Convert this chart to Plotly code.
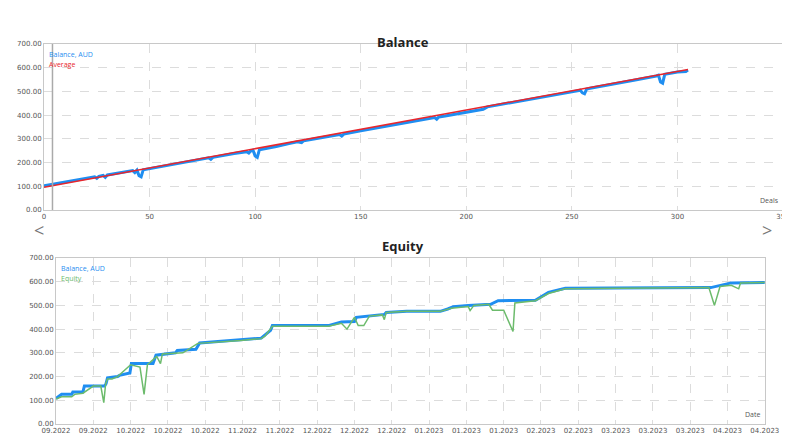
import plotly.graph_objects as go

# Balance chart (by deal)
deals = [0, 10, 20, 24, 25, 26, 28, 29, 30, 40, 42, 43, 44, 45, 46, 47, 50, 60, 70, 78, 79, 80, 90,
         96, 97, 98, 99, 100, 101, 102, 110, 115, 116, 120, 122, 123, 130, 140, 141, 142, 150,
         160, 170, 180, 185, 186, 187, 190, 200, 208, 210, 220, 230, 240, 250, 254, 255, 256,
         257, 258, 260, 270, 280, 290, 291, 292, 293, 294, 300, 304, 305]
balance = [102, 118, 134, 140, 134, 142, 146, 138, 148, 163, 166, 158, 168, 145, 140, 170, 175, 192,
           208, 220, 214, 222, 238, 246, 240, 250, 252, 228, 222, 254, 268, 276, 280, 288, 284, 292,
           302, 318, 312, 320, 334, 350, 366, 382, 390, 383, 392, 396, 412, 425, 435, 450, 466,
           480, 498, 505, 494, 490, 510, 512, 515, 530, 548, 565, 568, 540, 535, 572, 582, 584, 590]
avg_deals = [0, 305]
avg_values = [96, 592]

# Equity chart (by date, x in tick positions)
date_labels = ["09.2022", "09.2022", "10.2022", "10.2022", "10.2022", "11.2022", "11.2022",
               "12.2022", "12.2022", "12.2022", "01.2023", "01.2023", "01.2023", "02.2023",
               "02.2023", "03.2023", "03.2023", "03.2023", "04.2023", "04.2023"]
bal_t = [0.0, 0.15, 0.42, 0.45, 0.72, 0.76, 1.3, 1.34, 1.38, 1.65, 1.7, 1.98, 2.02, 2.6, 2.68, 3.0,
         3.2, 3.25, 3.75, 3.85, 4.4, 4.95, 5.5, 5.75, 5.8, 7.3, 7.65, 8.0, 8.05, 8.8, 8.85, 9.4,
         10.3, 10.5, 10.65, 11.05, 11.65, 11.85, 12.85, 13.2, 13.65, 17.5, 17.55, 18.1, 19.0]
bal_v = [108, 125, 125, 135, 135, 160, 160, 170, 195, 200, 205, 215, 255, 255, 290, 295,
         300, 310, 315, 342, 348, 355, 362, 395, 415, 415, 430, 432, 450, 462, 470, 475,
         475, 485, 495, 500, 505, 520, 522, 555, 572, 575, 575, 595, 597]
eq_t = [0.0, 0.15, 0.42, 0.5, 0.72, 1.0, 1.2, 1.28, 1.33, 1.38, 1.5, 1.65, 2.0, 2.25, 2.36, 2.45,
        2.7, 2.8, 2.85, 3.3, 3.4, 3.8, 4.4, 4.95, 5.5, 5.6, 5.8, 7.3, 7.65, 7.8, 7.9, 8.0, 8.1,
        8.25, 8.4, 8.75, 8.8, 8.85, 9.4, 10.3, 10.6, 11.05, 11.1, 11.2, 11.6, 11.7, 12.0, 12.25,
        12.3, 12.85, 13.2, 13.65, 17.5, 17.65, 17.8, 18.1, 18.3, 18.35, 19.0]
eq_v = [105, 115, 115, 125, 130, 160, 160, 90, 170, 190, 190, 200, 250, 240, 125, 250,
        285, 255, 295, 300, 300, 340, 345, 352, 360, 370, 412, 412, 425, 400, 425, 450, 415,
        415, 455, 460, 440, 470, 475, 475, 488, 495, 478, 500, 505, 480, 480, 390, 510,
        520, 550, 570, 575, 500, 580, 585, 570, 595, 597]

grid = dict(showgrid=True, gridcolor="#dcdcdc", griddash="dash", gridwidth=1,
            showline=True, linecolor="#c8c8c8", mirror=True, zeroline=False, automargin=False,
            tickfont=dict(size=7, color="#555", family="DejaVu Sans"), ticks="")

fig = go.Figure()
fig.add_trace(go.Scatter(x=deals, y=balance, mode="lines", line=dict(color="#1f8ef1", width=3),
                         xaxis="x", yaxis="y"))
fig.add_trace(go.Scatter(x=avg_deals, y=avg_values, mode="lines", line=dict(color="#e8262c", width=1.5),
                         xaxis="x", yaxis="y"))
fig.add_trace(go.Scatter(x=bal_t, y=bal_v, mode="lines", line=dict(color="#1f8ef1", width=3),
                         xaxis="x2", yaxis="y2"))
fig.add_trace(go.Scatter(x=eq_t, y=eq_v, mode="lines", line=dict(color="#6cbb6c", width=1.5),
                         xaxis="x2", yaxis="y2"))

fig.update_layout(
    width=790, height=444, showlegend=False, plot_bgcolor="white", paper_bgcolor="white",
    margin=dict(l=0, r=0, t=0, b=0),
    xaxis=dict(grid, domain=[0.0456, 0.981], range=[0, 350], tickvals=[0, 50, 100, 150, 200, 250, 300, 350]),
    yaxis=dict(grid, domain=[0.545, 0.919], range=[0, 700], dtick=100, tickformat=".2f"),
    xaxis2=dict(grid, domain=[0.0608, 0.958], range=[0, 19], tickvals=list(range(20)),
                ticktext=date_labels, anchor="y2"),
    yaxis2=dict(grid, domain=[0.063, 0.437], range=[0, 700], dtick=100, tickformat=".2f", anchor="x2"),
    shapes=[dict(type="line", xref="x", yref="y", x0=4, x1=4, y0=0, y1=700,
                 line=dict(color="#aaa", width=1.5))],
    annotations=[
        dict(text="<b>Balance</b>", x=0.5, y=23, xref="paper", yref="paper", showarrow=False,
             font=dict(size=13, color="#222")),
        dict(text="<b>Equity</b>", x=0.5, y=238, xref="paper", yref="paper", showarrow=False,
             font=dict(size=13, color="#222")),
        dict(text="Balance, AUD", x=0.049, y=0.91, xref="paper", yref="paper", showarrow=False,
             xanchor="left", yanchor="top", font=dict(size=7, color="#1f8ef1")),
        dict(text="Average", x=0.049, y=0.888, xref="paper", yref="paper", showarrow=False,
             xanchor="left", yanchor="top", font=dict(size=7, color="#e8262c")),
        dict(text="Balance, AUD", x=0.064, y=0.428, xref="paper", yref="paper", showarrow=False,
             xanchor="left", yanchor="top", font=dict(size=7, color="#1f8ef1")),
        dict(text="Equity", x=0.064, y=0.406, xref="paper", yref="paper", showarrow=False,
             xanchor="left", yanchor="top", font=dict(size=7, color="#6cbb6c")),
        dict(text="Deals", x=0.978, y=0.552, xref="paper", yref="paper", showarrow=False,
             xanchor="right", yanchor="bottom", font=dict(size=7, color="#555")),
        dict(text="Date", x=0.955, y=0.07, xref="paper", yref="paper", showarrow=False,
             xanchor="right", yanchor="bottom", font=dict(size=7, color="#555")),
        dict(text="&lt;", x=24, y=222, xref="paper", yref="paper", showarrow=False,
             font=dict(size=18, color="#777")),
        dict(text="&gt;", x=766, y=222, xref="paper", yref="paper", showarrow=False,
             font=dict(size=18, color="#777")),
    ],
)
for a in fig.layout.annotations:
    if a.text in ("<b>Balance</b>", "<b>Equity</b>"):
        a.y = 1 - a.y / 444
    if a.text in ("&lt;", "&gt;"):
        a.x = a.x / 790
        a.y = 1 - a.y / 444

fig.write_html("out.html")
